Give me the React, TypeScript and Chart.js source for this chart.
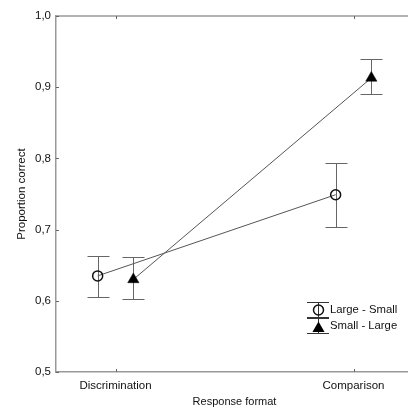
import React, { useEffect, useRef } from "react";
import { Chart, registerables } from "chart.js";

Chart.register(...registerables);

const categories = ["Discrimination", "Comparison"];
const categoryPositions = [0, 1];
const seriesLabels = ["Large - Small", "Small - Large"];
const dodge = [-0.075, 0.075];

const largeSmallMean = [0.635, 0.749];
const largeSmallLow = [0.606, 0.703];
const largeSmallHigh = [0.663, 0.794];

const smallLargeMean = [0.630, 0.913];
const smallLargeLow = [0.602, 0.891];
const smallLargeHigh = [0.661, 0.940];

const yTicks = [0.5, 0.6, 0.7, 0.8, 0.9, 1.0];

const FONT = "'Liberation Sans', Arial, sans-serif";

const errorLows = [largeSmallLow, smallLargeLow];
const errorHighs = [largeSmallHigh, smallLargeHigh];

const errorBarPlugin = {
  id: "errorBars",
  beforeDatasetsDraw(chart: any) {
    const ctx = chart.ctx;
    const yScale = chart.scales.y;
    ctx.save();
    ctx.strokeStyle = "#666";
    ctx.lineWidth = 1;
    chart.data.datasets.forEach((_ds: any, i: number) => {
      const meta = chart.getDatasetMeta(i);
      meta.data.forEach((pt: any, j: number) => {
        const x = Math.round(pt.x) + 0.5;
        const y1 = Math.round(yScale.getPixelForValue(errorLows[i][j])) + 0.5;
        const y2 = Math.round(yScale.getPixelForValue(errorHighs[i][j])) + 0.5;
        ctx.beginPath();
        ctx.moveTo(x, y1);
        ctx.lineTo(x, y2);
        ctx.moveTo(x - 11, y1);
        ctx.lineTo(x + 11, y1);
        ctx.moveTo(x - 11, y2);
        ctx.lineTo(x + 11, y2);
        ctx.stroke();
      });
    });
    ctx.restore();
  },
};

const framePlugin = {
  id: "frame",
  afterDraw(chart: any) {
    const ctx = chart.ctx;
    const { left, right, top, bottom } = chart.chartArea;
    const xScale = chart.scales.x;
    const yScale = chart.scales.y;
    ctx.save();
    // top border
    ctx.strokeStyle = "#999";
    ctx.lineWidth = 1.5;
    ctx.beginPath();
    ctx.moveTo(left, top);
    ctx.lineTo(right + 10, top);
    ctx.stroke();
    // inward ticks
    ctx.strokeStyle = "#666";
    ctx.lineWidth = 1;
    ctx.beginPath();
    yScale.ticks.forEach((t: any) => {
      const y = Math.round(yScale.getPixelForValue(t.value)) + 0.5;
      ctx.moveTo(left, y);
      ctx.lineTo(left + 3, y);
    });
    xScale.ticks.forEach((t: any) => {
      const x = Math.round(xScale.getPixelForValue(t.value)) + 0.5;
      ctx.moveTo(x, bottom);
      ctx.lineTo(x, bottom - 3);
      ctx.moveTo(x, top);
      ctx.lineTo(x, top + 3);
    });
    ctx.stroke();

    // legend
    const sx = right - 95;
    const rows = [bottom - 62, bottom - 46];
    ctx.font = `11.3px ${FONT}`;
    ctx.textBaseline = "middle";
    ctx.textAlign = "left";
    rows.forEach((ry, i) => {
      ctx.strokeStyle = "#333";
      ctx.lineWidth = 1;
      ctx.beginPath();
      ctx.moveTo(sx - 11, Math.round(ry - 8) + 0.5);
      ctx.lineTo(sx + 11, Math.round(ry - 8) + 0.5);
      ctx.moveTo(sx - 11, Math.round(ry + 7) + 0.5);
      ctx.lineTo(sx + 11, Math.round(ry + 7) + 0.5);
      ctx.moveTo(sx + 0.5, ry - 8);
      ctx.lineTo(sx + 0.5, ry + 7);
      ctx.stroke();
      if (i === 0) {
        ctx.strokeStyle = "#111";
        ctx.lineWidth = 1.5;
        ctx.beginPath();
        ctx.arc(sx + 0.5, ry, 5, 0, Math.PI * 2);
        ctx.stroke();
      } else {
        const r = 7;
        const cy = ry + 2.5;
        ctx.fillStyle = "#000";
        ctx.beginPath();
        let a = 0;
        ctx.moveTo(sx + 0.5 + Math.sin(a) * r, cy - Math.cos(a) * r);
        a += (2 * Math.PI) / 3;
        ctx.lineTo(sx + 0.5 + Math.sin(a) * r, cy - Math.cos(a) * r);
        a += (2 * Math.PI) / 3;
        ctx.lineTo(sx + 0.5 + Math.sin(a) * r, cy - Math.cos(a) * r);
        ctx.closePath();
        ctx.fill();
      }
      ctx.fillStyle = "#111";
      ctx.fillText(seriesLabels[i], sx + 12, ry);
    });
    ctx.restore();
  },
};

export default function App() {
  const ref = useRef<HTMLCanvasElement | null>(null);

  useEffect(() => {
    if (!ref.current) return;
    const chart = new Chart(ref.current, {
      type: "line",
      data: {
        datasets: [
          {
            label: seriesLabels[0],
            data: categoryPositions.map((c, i) => ({ x: c + dodge[0], y: largeSmallMean[i] })),
            borderColor: "#555",
            borderWidth: 1,
            pointStyle: "circle",
            pointRadius: 5,
            pointBorderWidth: 1.5,
            pointBorderColor: "#111",
            pointBackgroundColor: "rgba(0,0,0,0)",
            fill: false,
          },
          {
            label: seriesLabels[1],
            data: categoryPositions.map((c, i) => ({ x: c + dodge[1], y: smallLargeMean[i] })),
            borderColor: "#555",
            borderWidth: 1,
            pointStyle: "triangle",
            pointRadius: 6.5,
            pointBorderWidth: 0.5,
            pointBorderColor: "#000",
            pointBackgroundColor: "#000",
            fill: false,
          },
        ],
      },
      options: {
        animation: false,
        responsive: false,
        devicePixelRatio: 1,
        layout: { padding: { top: 16, right: 7, left: 0, bottom: 0 } },
        plugins: {
          legend: { display: false },
          tooltip: { enabled: false },
        },
        scales: {
          x: {
            type: "linear",
            min: -0.25,
            max: 1.25,
            afterBuildTicks: (axis: any) => {
              axis.ticks = categoryPositions.map((v) => ({ value: v }));
            },
            afterFit: (s: any) => {
              s.height = 40;
            },
            ticks: {
              autoSkip: false,
              maxRotation: 0,
              padding: 7,
              color: "#111",
              font: { family: FONT, size: 11.5 },
              callback: (v: any) => {
                const idx = categoryPositions.indexOf(Number(v));
                return idx >= 0 ? categories[idx] : "";
              },
            },
            grid: { display: false, drawTicks: false },
            border: { display: true, color: "#999", width: 1.5 },
            title: {
              display: true,
              text: "Response format",
              color: "#111",
              font: { family: FONT, size: 11 },
              padding: { top: 0, bottom: 3.5 },
            },
          },
          y: {
            type: "linear",
            min: 0.5,
            max: 1.0,
            afterBuildTicks: (axis: any) => {
              axis.ticks = yTicks.map((v) => ({ value: v }));
            },
            afterFit: (s: any) => {
              s.width = 56;
            },
            ticks: {
              padding: 5,
              color: "#111",
              font: { family: FONT, size: 11.5 },
              callback: (v: any) => Number(v).toFixed(1).replace(".", ","),
            },
            grid: { display: false, drawTicks: false },
            border: { display: true, color: "#999", width: 1.5 },
            title: {
              display: true,
              text: "Proportion correct",
              color: "#111",
              font: { family: FONT, size: 11.5 },
              padding: { top: 14.8, bottom: 0 },
            },
          },
        },
      },
      plugins: [errorBarPlugin, framePlugin],
    });
    return () => chart.destroy();
  }, []);

  return (
    <div style={{ position: "fixed", left: 0, top: 0, width: 420, height: 412, background: "#fff" }}>
      <canvas ref={ref} width={420} height={412} style={{ display: "block" }} />
    </div>
  );
}
